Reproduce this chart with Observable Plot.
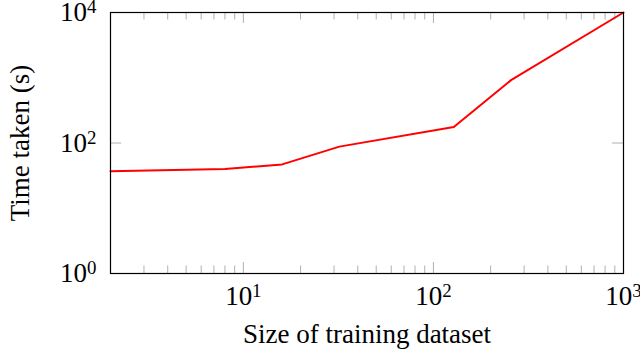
<!DOCTYPE html>
<html>
<head>
<meta charset="utf-8">
<script src="https://cdn.jsdelivr.net/npm/d3@7"></script>
<script src="https://cdn.jsdelivr.net/npm/@observablehq/plot@0.6"></script>
<style>
  html, body { margin: 0; padding: 0; background: #fff; }
  svg { font-family: "Liberation Serif", "DejaVu Serif", serif; }
</style>
</head>
<body>
<div id="chart"></div>
<script>
// Data (log–log)
const datasetSize = [2, 8, 16, 32, 128, 256, 1000];
const timeTaken   = [37, 40, 47, 88, 176, 920, 10000];

const xMajorTicks = [10, 100, 1000];
const xMinorTicks = [3, 4, 5, 6, 7, 8, 9, 20, 30, 40, 50, 60, 70, 80, 90, 200, 300, 400, 500, 600, 700, 800, 900];
const yMajorTicks = [1, 100, 10000];
const yInnerTicks = [100];

const xLabel = "Size of training dataset";
const yLabel = "Time taken (s)";

const data = datasetSize.map((s, i) => ({size: s, time: timeTaken[i]}));

const W = 640, H = 350;
const mL = 110, mR = 17, mT = 12, mB = 77;
const innerH = H - mT - mB, innerW = W - mL - mR;
const majorLen = 11, minorLen = 7.5;
const tickColor = "#b0b0b0";

const chart = Plot.plot({
  width: W,
  height: H,
  marginLeft: mL,
  marginRight: mR,
  marginTop: mT,
  marginBottom: mB,
  style: {fontFamily: "Liberation Serif, DejaVu Serif, serif", fontSize: "27px", color: "black", background: "white", overflow: "visible"},
  x: {type: "log", domain: [2, 1000]},
  y: {type: "log", domain: [1, 10000]},
  marks: [
    // minor & major x ticks, inside the frame, bottom and top
    Plot.tickX(xMinorTicks, {x: d => d, insetTop: innerH - minorLen, stroke: tickColor, strokeWidth: 1}),
    Plot.tickX(xMinorTicks, {x: d => d, insetBottom: innerH - minorLen, stroke: tickColor, strokeWidth: 1}),
    Plot.tickX(xMajorTicks, {x: d => d, insetTop: innerH - majorLen, stroke: tickColor, strokeWidth: 1}),
    Plot.tickX(xMajorTicks, {x: d => d, insetBottom: innerH - majorLen, stroke: tickColor, strokeWidth: 1}),
    // y major tick at 10^2, left and right
    Plot.tickY(yInnerTicks, {y: d => d, insetRight: innerW - majorLen, stroke: tickColor, strokeWidth: 1}),
    Plot.tickY(yInnerTicks, {y: d => d, insetLeft: innerW - majorLen, stroke: tickColor, strokeWidth: 1}),
    Plot.axisX({ticks: xMajorTicks, tickSize: 0, tickPadding: 12, tickFormat: d => String(Math.round(Math.log10(d))), label: null, fontSize: 27}),
    Plot.axisY({ticks: yMajorTicks, tickSize: 0, tickPadding: 14, tickFormat: d => String(Math.round(Math.log10(d))), label: null, fontSize: 27}),
    Plot.line(data, {x: "size", y: "time", stroke: "#ff0000", strokeWidth: 2}),
    Plot.frame({stroke: "black", strokeWidth: 1.2}),
    Plot.text([xLabel], {frameAnchor: "bottom", dy: 69, lineAnchor: "bottom", textAnchor: "middle", fontSize: 27, fill: "black"}),
    Plot.text([yLabel], {frameAnchor: "left", dx: -82, rotate: -90, lineAnchor: "bottom", textAnchor: "middle", fontSize: 27, fill: "black"})
  ]
});

// Render tick labels as 10 with a superscript exponent
d3.select(chart).selectAll('g[aria-label="x-axis tick label"] text, g[aria-label="y-axis tick label"] text').each(function() {
  const t = d3.select(this);
  const e = t.text();
  t.text(null);
  t.append("tspan").text("10");
  t.append("tspan").attr("dy", "-0.42em").attr("font-size", "0.7em").text(e);
});

document.getElementById("chart").appendChild(chart);
</script>
</body>
</html>
